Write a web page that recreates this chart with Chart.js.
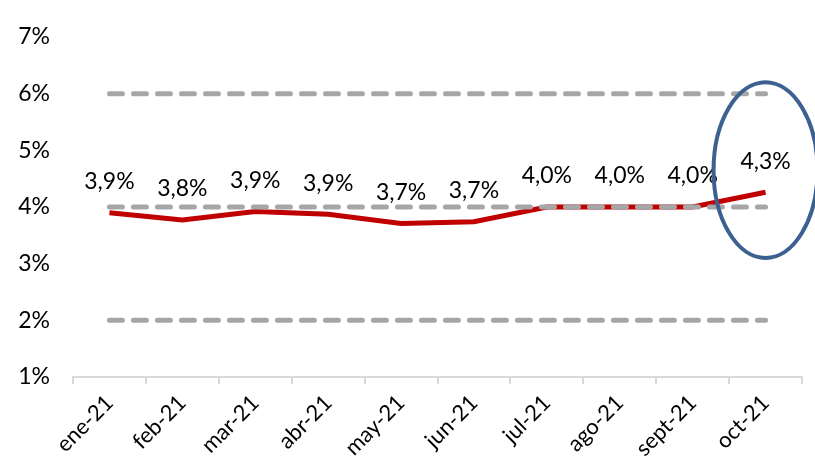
<!DOCTYPE html>
<html>
<head>
<meta charset="utf-8">
<script src="https://cdn.jsdelivr.net/npm/chart.js@4/dist/chart.umd.min.js"></script>
<style>
  html, body { margin: 0; padding: 0; background: #fff; }
  #wrap { width: 815px; height: 459px; position: relative; }
</style>
</head>
<body>
<div id="wrap"><canvas id="chart"></canvas></div>
<script>
// Months and monthly rate (%)
const months = ['ene-21', 'feb-21', 'mar-21', 'abr-21', 'may-21', 'jun-21', 'jul-21', 'ago-21', 'sept-21', 'oct-21'];
const rate = [3.90, 3.77, 3.92, 3.87, 3.71, 3.74, 4.0, 4.0, 4.0, 4.26];
// Reference band lines
const bandLow = [2, 2, 2, 2, 2, 2, 2, 2, 2, 2];
const bandMid = [4, 4, 4, 4, 4, 4, 4, 4, 4, 4];
const bandHigh = [6, 6, 6, 6, 6, 6, 6, 6, 6, 6];
const yTicks = [1, 2, 3, 4, 5, 6, 7];

const FONT = 'Lato, "DejaVu Sans", sans-serif';

const bandStyle = {
  borderColor: '#a6a6a6', borderWidth: 5, borderDash: [13, 11], borderCapStyle: 'round',
  pointRadius: 0, fill: false, tension: 0
};

// value labels above the red line, comma decimals
const valueLabels = {
  id: 'valueLabels',
  afterDatasetsDraw(chart) {
    const meta = chart.getDatasetMeta(0);
    const ctx = chart.ctx;
    ctx.save();
    ctx.font = '23px ' + FONT;
    ctx.fillStyle = '#000';
    ctx.textAlign = 'center';
    ctx.textBaseline = 'middle';
    meta.data.forEach((pt, i) => {
      const txt = rate[i].toFixed(1).replace('.', ',') + '%';
      ctx.fillText(txt, pt.x, pt.y - 31);
    });
    ctx.restore();
  }
};

// blue ellipse highlighting the last month
const highlight = {
  id: 'highlight',
  afterDraw(chart) {
    const x = chart.scales.x, y = chart.scales.y;
    const cx = x.getPixelForValue(months.length - 1);
    const cy = y.getPixelForValue(4.65);
    const ry = (y.getPixelForValue(3.1) - y.getPixelForValue(6.2)) / 2;
    const ctx = chart.ctx;
    ctx.save();
    ctx.strokeStyle = '#3c6090';
    ctx.lineWidth = 4;
    ctx.beginPath();
    ctx.ellipse(cx, cy, 52, ry, 0, 0, Math.PI * 2);
    ctx.stroke();
    ctx.restore();
  }
};

new Chart(document.getElementById('chart'), {
  type: 'line',
  data: {
    labels: months,
    datasets: [
      { data: rate, borderColor: '#c00000', borderWidth: 5, pointRadius: 0, tension: 0, fill: false, order: 2 },
      Object.assign({ data: bandLow, order: 1 }, bandStyle),
      Object.assign({ data: bandMid, order: 1 }, bandStyle),
      Object.assign({ data: bandHigh, order: 1 }, bandStyle)
    ]
  },
  options: {
    responsive: true,
    maintainAspectRatio: false,
    animation: false,
    layout: { padding: { top: 37, right: 13, left: 0, bottom: 0 } },
    plugins: { legend: { display: false }, tooltip: { enabled: false } },
    scales: {
      x: {
        offset: true,
        grid: { display: true, drawOnChartArea: false, offset: true, color: '#d9d9d9', lineWidth: 2, tickLength: 7 },
        border: { display: true, color: '#d9d9d9', width: 2 },
        ticks: { color: '#000', font: { family: FONT, size: 22 }, minRotation: 45, maxRotation: 45, padding: 6 },
        afterFit: (s) => { s.height = 82; }
      },
      y: {
        min: 1, max: 7,
        grid: { display: false, drawTicks: false },
        border: { display: false },
        afterBuildTicks: (s) => { s.ticks = yTicks.map(v => ({ value: v })); },
        ticks: { color: '#000', font: { family: FONT, size: 23 }, padding: 23, callback: (v) => v + '%' },
        afterFit: (s) => { s.width = 73; }
      }
    }
  },
  plugins: [valueLabels, highlight]
});
</script>
</body>
</html>
